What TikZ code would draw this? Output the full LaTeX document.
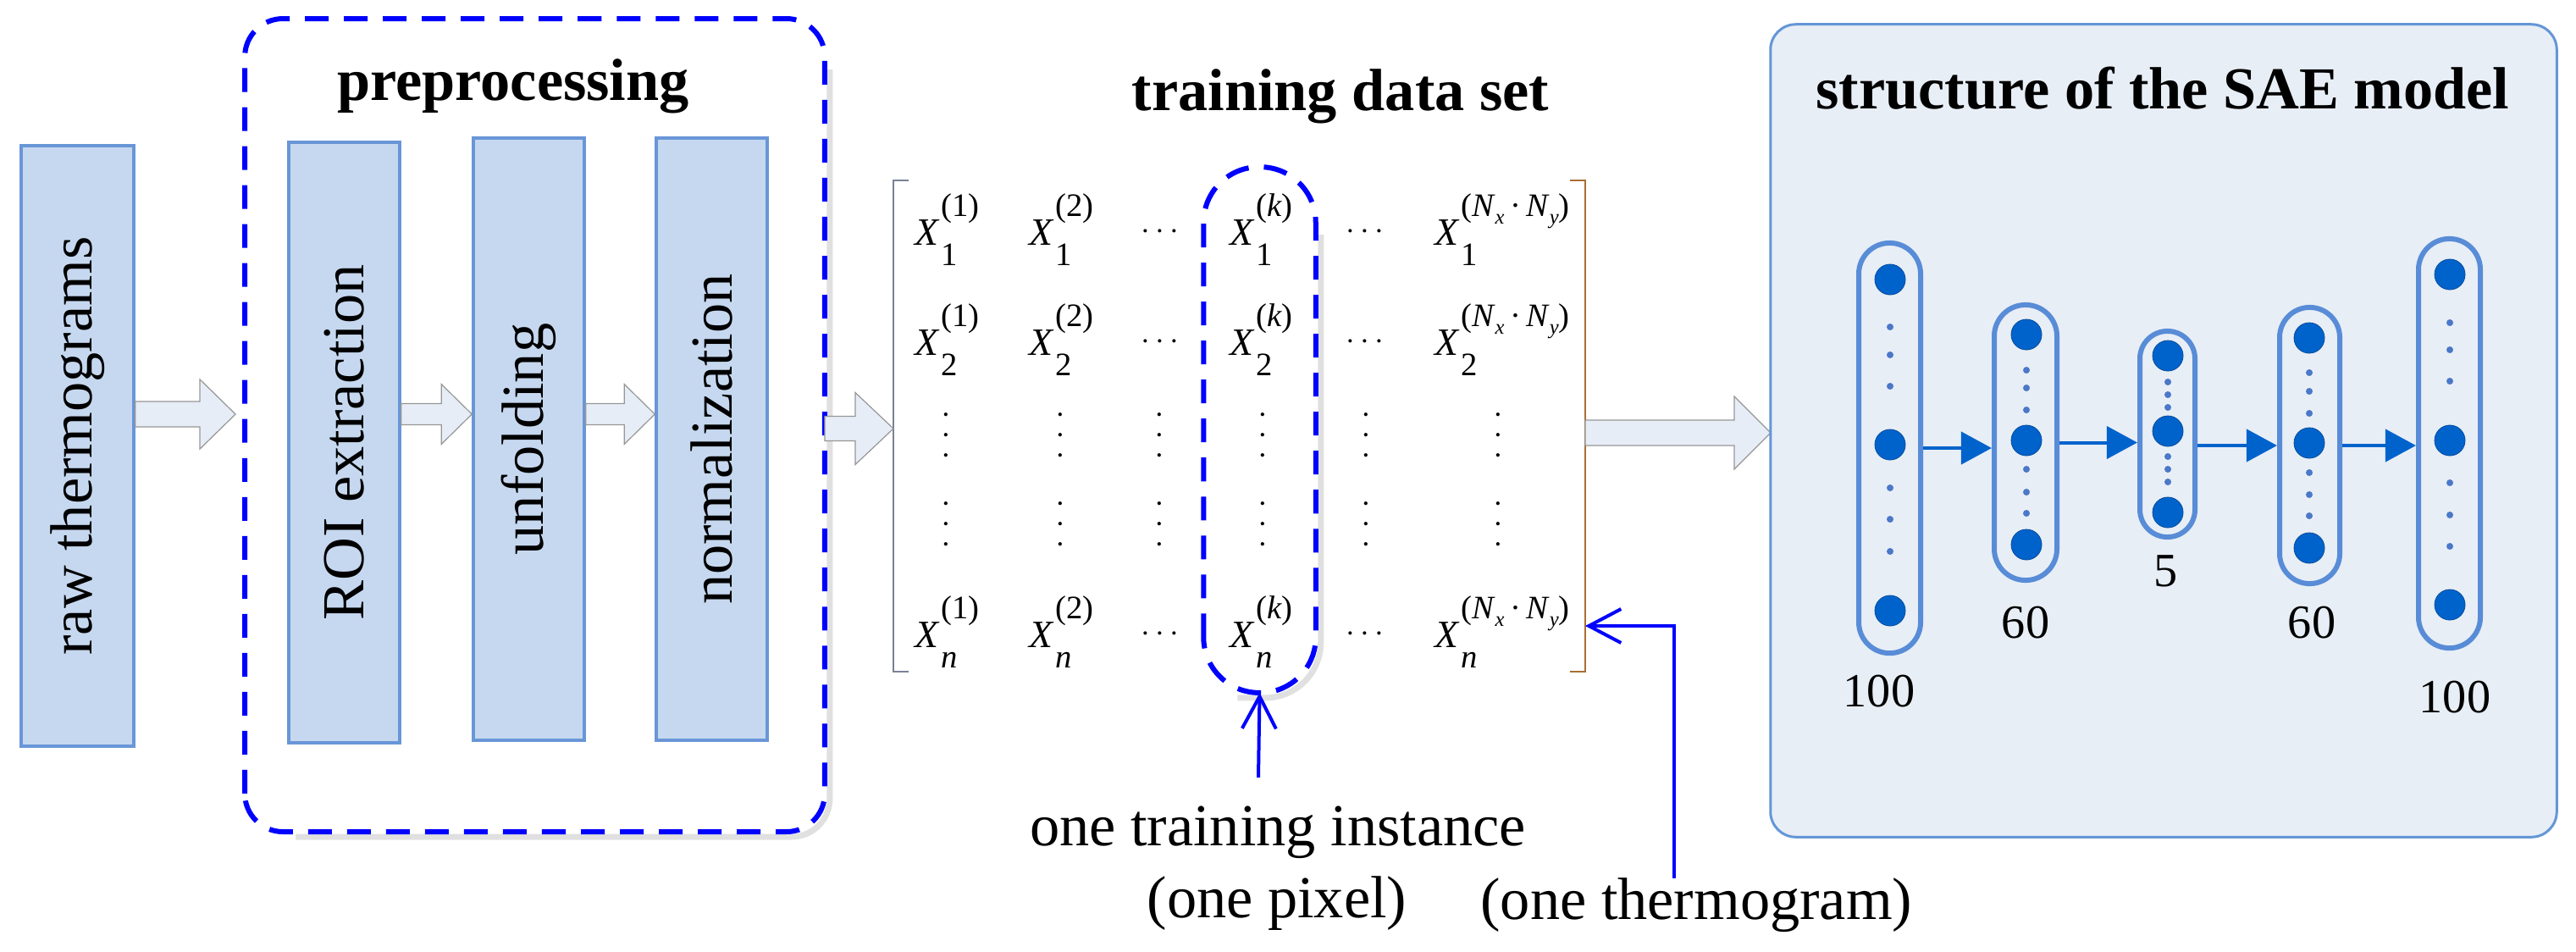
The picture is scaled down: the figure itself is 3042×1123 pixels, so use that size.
\documentclass[tikz,border=0pt]{standalone}
\usepackage{fontspec}
\setmainfont{Liberation Serif}
\usepackage{graphicx}
\usetikzlibrary{arrows.meta,calc}
\definecolor{boxfill}{RGB}{198,216,239}
\definecolor{boxdraw}{RGB}{105,150,215}
\definecolor{dblue}{RGB}{0,0,255}
\definecolor{arrfill}{RGB}{231,237,247}
\definecolor{arrdraw}{RGB}{150,150,150}
\definecolor{saefill}{RGB}{232,238,246}
\definecolor{saedraw}{RGB}{100,150,215}
\definecolor{neuron}{RGB}{0,99,204}
\definecolor{capsdraw}{RGB}{88,140,215}
\definecolor{smalldot}{RGB}{75,120,200}
\definecolor{shadowgray}{RGB}{224,224,224}
\definecolor{lbrk}{RGB}{120,130,150}
\definecolor{rbrk}{RGB}{170,110,50}
\newcommand\blockarrow[5]{%
  \draw[blockarr] let \p1=(#1), \p2=(#2) in
    (\x1,\y1+#3) -- (\x2-#5,\y1+#3) -- (\x2-#5,\y1+#4) -- (\x2,\y1)
    -- (\x2-#5,\y1-#4) -- (\x2-#5,\y1-#3) -- (\x1,\y1-#3) -- cycle;}
\newcommand\mxe[2]{\fontsize{13}{13}\selectfont\textit{X}\kern0.3pt\rlap{\raisebox{-7pt}{\fontsize{11}{11}\selectfont#1}}\raisebox{9.5pt}{\fontsize{11}{11}\selectfont(#2)}}
\newcommand\Nxy{\textit{N}\raisebox{-2.5pt}{\fontsize{7}{7}\selectfont\textit{x}}\,·\,\textit{N}\raisebox{-2.5pt}{\fontsize{7}{7}\selectfont\textit{y}}}
\newcommand\vd{\vbox{\baselineskip6.7pt\lineskiplimit0pt\hbox{•}\hbox{•}\hbox{•}}}
\begin{document}
\begin{tikzpicture}[x=0.01cm,y=-0.01cm,
  lbl/.style={font=\fontsize{20}{24}\selectfont},
  ttl/.style={font=\fontsize{20}{24}\selectfont\bfseries},
  numlbl/.style={font=\fontsize{16}{18}\selectfont},
  procbox/.style={draw=boxdraw, fill=boxfill, line width=0.035cm, inner sep=0pt, lbl},
  blockarr/.style={fill=arrfill, draw=arrdraw, line width=0.012cm},
  dashbox/.style={draw=dblue, line width=0.06cm, dash pattern=on 0.28cm off 0.18cm},
  shadowline/.style={draw=shadowgray, line width=0.07cm},
  barb/.style={draw=dblue, line width=0.04cm, -{Straight Barb[length=0.38cm,width=0.40cm]}},
  entry/.style={anchor=base west, inner sep=0pt},
  vdnode/.style={anchor=base, inner sep=0pt, font=\fontsize{5}{5}\selectfont},
  cdnode/.style={anchor=base, inner sep=0pt, font=\fontsize{11}{11}\selectfont},
  saebox/.style={draw=saedraw, fill=saefill, line width=0.03cm, rounded corners=0.3cm},
  capsule/.style={draw=capsdraw, line width=0.06cm},
  neur/.style={circle, fill=neuron, draw=neuron!75!black, line width=0.008cm, minimum size=0.36cm, inner sep=0pt},
  sdot/.style={fill=smalldot},
  nnarrow/.style={draw=neuron, line width=0.04cm, -{Triangle[length=0.36cm,width=0.38cm]}}
]
\useasboundingbox (0,0) rectangle (3042,1123);

% ---------------- left part ----------------
\node[procbox, rotate=90, minimum width=7.09cm, minimum height=1.33cm] (raw) at (91.5,526.5) {raw thermograms};

% preprocessing frame with shadow
\node[minimum width=6.83cm, minimum height=9.58cm, inner sep=0pt] (pre) at (631.5,502) {};
\draw[shadowline, rounded corners=0.45cm] ($(pre.north east)+(6,60)$) -- ($(pre.south east)+(6,6)$) -- ($(pre.south west)+(60,6)$);
\draw[dashbox, rounded corners=0.45cm] (pre.south west) rectangle (pre.north east);
\node[ttl, anchor=base] (pret) at (606,118) {preprocessing};

\node[procbox, rotate=90, minimum width=7.09cm, minimum height=1.31cm] (roi) at (406.5,522.5) {ROI extraction};
\node[procbox, rotate=90, minimum width=7.11cm, minimum height=1.31cm] (unf) at (624.5,518.5) {unfolding};
\node[procbox, rotate=90, minimum width=7.11cm, minimum height=1.31cm] (nrm) at (840.5,518.5) {normalization};

\blockarrow{raw.south |- 0,489}{$(pre.west |- 0,489)+(-11,0)$}{0.15cm}{0.41cm}{0.42cm}
\blockarrow{roi.south |- 0,489}{unf.north |- 0,489}{0.125cm}{0.355cm}{0.36cm}
\blockarrow{unf.south |- 0,489}{nrm.north |- 0,489}{0.125cm}{0.355cm}{0.36cm}

% ---------------- matrix ----------------
\coordinate (lbrT) at (1055,213);
\coordinate (lbrB) at (1055,793);
\coordinate (rbrT) at (1872,213);
\coordinate (rbrB) at (1872,793);
\draw[lbrk, line width=0.022cm] ($(lbrT)+(18,0)$) -- (lbrT) -- (lbrB) -- ($(lbrB)+(18,0)$);
\draw[rbrk, line width=0.022cm] ($(rbrT)+(-18,0)$) -- (rbrT) -- (rbrB) -- ($(rbrB)+(-18,0)$);

\blockarrow{pre.east |- 0,506}{lbrT |- 0,506}{0.145cm}{0.425cm}{0.45cm}
\blockarrow{rbrT |- 0,511}{2091,511}{0.15cm}{0.43cm}{0.43cm}

\node[ttl, anchor=base] (tds) at (1583,130) {training data set};

% instance column frame
\node[minimum width=1.31cm, minimum height=6.19cm, inner sep=0pt] (inst) at (1487.5,507.5) {};
\draw[shadowline, rounded corners=0.655cm] ($(inst.north east)+(6,80)$) -- ($(inst.south east)+(6,6)$) -- ($(inst.south west)+(40,6)$);
\draw[dashbox, rounded corners=0.655cm] (inst.south west) rectangle (inst.north east);

% row 1
\node[entry] (e11) at (1080,289) {\mxe{1}{1}};
\node[entry] (e12) at (1215,289) {\mxe{1}{2}};
\node[cdnode] (c13) at (1370,282) {$\cdots$};
\node[entry] (e1k) at (1452,289) {\mxe{1}{\textit{k}}};
\node[cdnode] (c15) at (1612,282) {$\cdots$};
\node[entry] (e1N) at (1694,289) {\mxe{1}{\Nxy}};
% row 2
\node[entry] (e21) at (1080,419) {\mxe{2}{1}};
\node[entry] (e22) at (1215,419) {\mxe{2}{2}};
\node[cdnode] (c23) at (1370,412) {$\cdots$};
\node[entry] (e2k) at (1452,419) {\mxe{2}{\textit{k}}};
\node[cdnode] (c25) at (1612,412) {$\cdots$};
\node[entry] (e2N) at (1694,419) {\mxe{2}{\Nxy}};
% vertical dots
\foreach \xx/\nm in {1117/a,1252/b,1369/c,1491/d,1613/e,1769/f}{
  \node[vdnode] (va\nm) at (\xx,543) {\vd};
  \node[vdnode] (vb\nm) at (\xx,648) {\vd};
}
% row n
\node[entry] (en1) at (1080,764) {\mxe{\textit{n}}{1}};
\node[entry] (en2) at (1215,764) {\mxe{\textit{n}}{2}};
\node[cdnode] (cn3) at (1370,757) {$\cdots$};
\node[entry] (enk) at (1452,764) {\mxe{\textit{n}}{\textit{k}}};
\node[cdnode] (cn5) at (1612,757) {$\cdots$};
\node[entry] (enN) at (1694,764) {\mxe{\textit{n}}{\Nxy}};

% labels below
\node[lbl, anchor=base] (oti) at (1509,998) {one training instance};
\node[lbl, anchor=base] (opx) at (1508,1083) {(one pixel)};
\node[lbl, anchor=base west] (otg) at (1736,1085) {(one thermogram)};
\coordinate (otiA) at (1486,918);
\draw[barb] (otiA) -- (inst.south);
\coordinate (otgA) at (1977,1037);
\coordinate (rbrP) at (1872,739);
\draw[barb] (otgA) |- (rbrP);

% ---------------- SAE ----------------
\node[saebox, minimum width=9.28cm, minimum height=9.59cm] (sae) at (2555,508.5) {};
\node[ttl, anchor=base] (saet) at (2554,128) {structure of the SAE model};

\node[capsule, rounded corners=0.365cm, minimum width=0.73cm, minimum height=4.84cm] (L1) at (2231.5,529) {};
\node[capsule, rounded corners=0.37cm, minimum width=0.74cm, minimum height=3.25cm] (L2) at (2392,522.5) {};
\node[capsule, rounded corners=0.325cm, minimum width=0.65cm, minimum height=2.43cm] (L3) at (2559.5,512.5) {};
\node[capsule, rounded corners=0.355cm, minimum width=0.71cm, minimum height=3.26cm] (L4) at (2727.5,526) {};
\node[capsule, rounded corners=0.365cm, minimum width=0.73cm, minimum height=4.83cm] (L5) at (2892.5,523.5) {};

\node[neur] (n1a) at (2232,330) {};
\node[neur] (n1b) at (2232,525) {};
\node[neur] (n1c) at (2232,721) {};
\node[neur] (n2a) at (2393,395) {};
\node[neur] (n2b) at (2393,520) {};
\node[neur] (n2c) at (2393,643) {};
\node[neur] (n3a) at (2560,420) {};
\node[neur] (n3b) at (2560,509) {};
\node[neur] (n3c) at (2560,605) {};
\node[neur] (n4a) at (2727,399) {};
\node[neur] (n4b) at (2727,523) {};
\node[neur] (n4c) at (2727,647) {};
\node[neur] (n5a) at (2893,324) {};
\node[neur] (n5b) at (2893,520) {};
\node[neur] (n5c) at (2893,714) {};

\foreach \yy in {386,419,456,576,613,651} \fill[sdot] (2232,\yy) circle (0.04cm);
\foreach \yy in {437,458,484,554,581,606} \fill[sdot] (2393,\yy) circle (0.04cm);
\foreach \yy in {451,466,481,539,554,569} \fill[sdot] (2560,\yy) circle (0.04cm);
\foreach \yy in {440,462,488,558,584,609} \fill[sdot] (2727,\yy) circle (0.04cm);
\foreach \yy in {381,413,450,570,608,645} \fill[sdot] (2893,\yy) circle (0.04cm);

\draw[nnarrow] (L1.east) -- (L1.east -| L2.west);
\draw[nnarrow] (L2.east) -- (L2.east -| L3.west);
\draw[nnarrow] (L4.west -| L3.east) -- (L4.west);
\draw[nnarrow] (L4.east) -- (L4.east -| L5.west);

\node[numlbl] (k1) at (2219,816) {100};
\node[numlbl] (k2) at (2392,735) {60};
\node[numlbl] (k3) at (2558,674) {5};
\node[numlbl] (k4) at (2730,735) {60};
\node[numlbl] (k5) at (2899,823) {100};
\end{tikzpicture}
\end{document}
